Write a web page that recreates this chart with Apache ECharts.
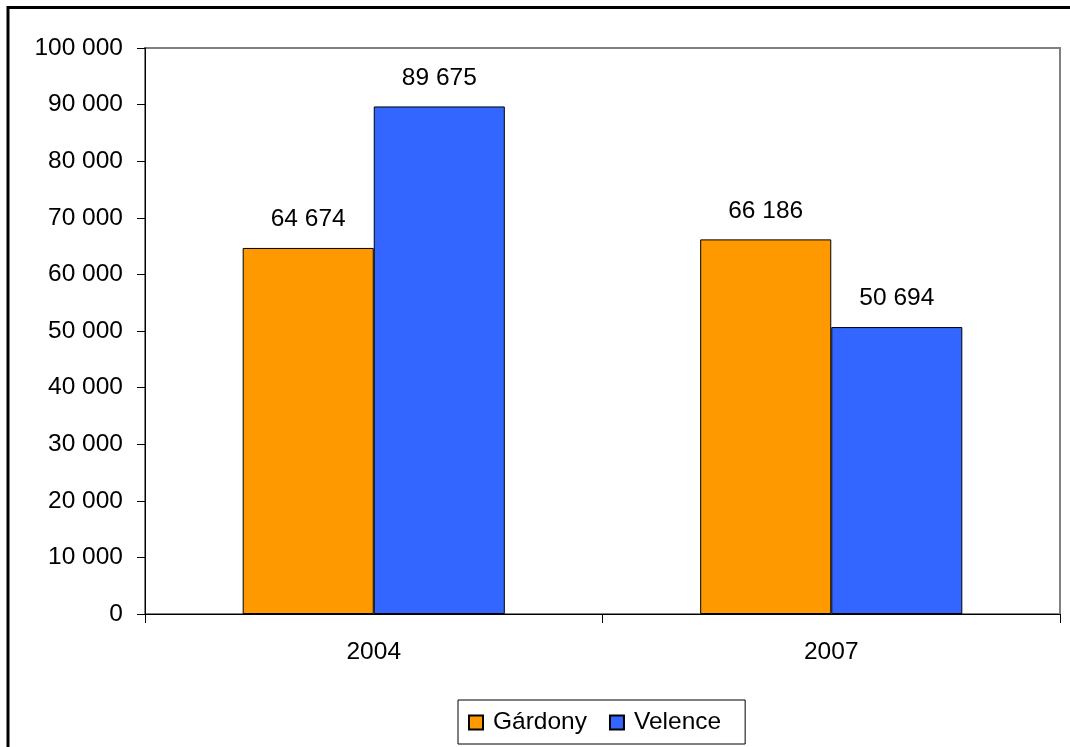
<!DOCTYPE html>
<html>
<head>
<meta charset="utf-8">
<script src="https://cdn.jsdelivr.net/npm/echarts@6/dist/echarts.min.js"></script>
<style>
html,body{margin:0;padding:0;background:#fff;}
#c{width:1070px;height:747px;}
</style>
</head>
<body>
<div id="c"></div>
<script>
const categories = ['2004', '2007'];
const seriesNames = ['Gárdony', 'Velence'];
const gardony = [64674, 66186];
const velence = [89675, 50694];
const yTicks = [0, 10000, 20000, 30000, 40000, 50000, 60000, 70000, 80000, 90000, 100000];

function fmt(v) {
  return String(v).replace(/\B(?=(\d{3})+(?!\d))/g, ' ');
}
const FONT = 'Liberation Sans, Arial, sans-serif';
const chart = echarts.init(document.getElementById('c'));
const barLabel = {
  show: true, position: 'top', distance: 16,
  color: '#000', fontSize: 24.5, fontFamily: FONT,
  formatter: p => fmt(p.value)
};
chart.setOption({
  animation: false,
  backgroundColor: '#fff',
  graphic: [{
    type: 'polyline', shape: { points: [[8, 1000], [8, 7.5], [1200, 7.5]] },
    style: { fill: 'none', stroke: '#000', lineWidth: 3 }, z: 100
  }],
  grid: {
    left: 145, top: 48, right: 10, bottom: 133,
    show: true, borderColor: '#808080', borderWidth: 2, backgroundColor: 'transparent'
  },
  legend: {
    data: seriesNames,
    left: 458, top: 700,
    orient: 'horizontal',
    itemWidth: 14, itemHeight: 14, itemGap: 22,
    icon: 'rect',
    borderColor: '#000', borderWidth: 1, borderRadius: 0,
    padding: [10, 24, 9, 10],
    textStyle: { color: '#000', fontSize: 24.5, fontFamily: FONT, padding: [0, 0, 0, 5] }
  },
  xAxis: {
    type: 'category', data: categories,
    axisLine: { lineStyle: { color: '#000', width: 1 } },
    axisTick: { show: true, length: 9, alignWithLabel: false, lineStyle: { color: '#000' } },
    axisLabel: { color: '#000', fontSize: 24.5, fontFamily: FONT, margin: 26 },
    splitLine: { show: false }
  },
  yAxis: {
    type: 'value', min: 0, max: 100000, interval: 10000,
    axisLine: { show: true, lineStyle: { color: '#000', width: 1 } },
    axisTick: { show: true, length: 8, lineStyle: { color: '#000' } },
    axisLabel: { color: '#000', fontSize: 24.5, fontFamily: FONT, margin: 22,
      formatter: v => yTicks.includes(v) ? fmt(v) : '' },
    splitLine: { show: false }
  },
  series: [
    {
      name: seriesNames[0], type: 'bar', data: gardony,
      barGap: '0%', barCategoryGap: '42.7%',
      itemStyle: { color: '#FF9900', borderColor: '#000', borderWidth: 1 },
      label: barLabel
    },
    {
      name: seriesNames[1], type: 'bar', data: velence,
      itemStyle: { color: '#3366FF', borderColor: '#000', borderWidth: 1 },
      label: barLabel
    }
  ]
});
</script>
</body>
</html>
